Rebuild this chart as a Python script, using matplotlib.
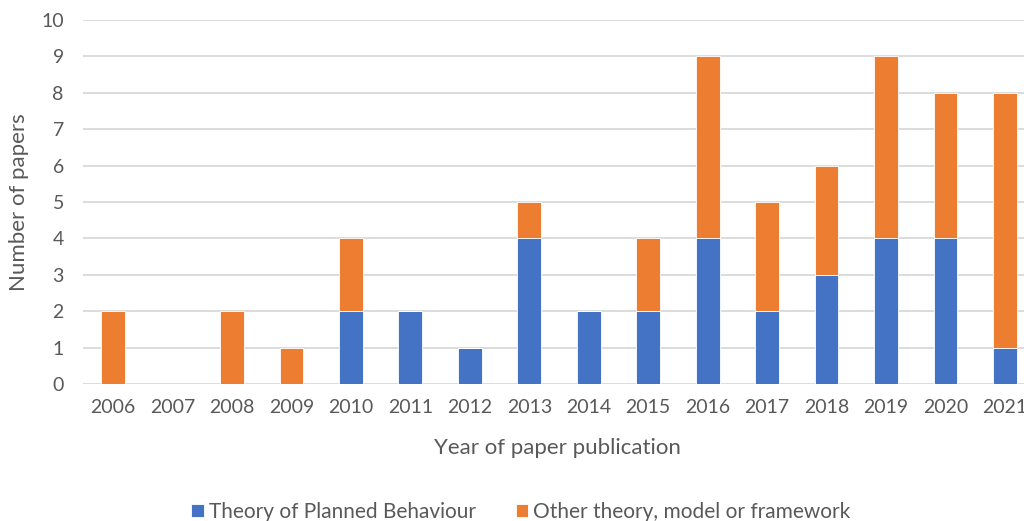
import numpy as np
import matplotlib.pyplot as plt

plt.rcParams['font.family'] = ['Lato', 'DejaVu Sans']

# Papers per year, split by the theory they use
years = ['2006', '2007', '2008', '2009', '2010', '2011', '2012', '2013',
         '2014', '2015', '2016', '2017', '2018', '2019', '2020', '2021']
tpb = [0, 0, 0, 0, 2, 2, 1, 4, 2, 2, 4, 2, 3, 4, 4, 1]
other = [2, 0, 2, 1, 2, 0, 0, 1, 0, 2, 5, 3, 3, 5, 4, 7]

blue = '#4472C4'
orange = '#ED7D31'
grey_text = '#595959'

fig = plt.figure(figsize=(10.24, 5.21), dpi=100)
W, H = 1024, 521
left, right = 83.3, 1034.7
ax = fig.add_axes([left / W, (H - 384) / H, (right - left) / W, (384 - 20) / H])

x = np.arange(len(years))
ax.bar(x, tpb, width=0.4, color=blue, edgecolor='white', linewidth=0.6,
       label='Theory of Planned Behaviour', zorder=3)
ax.bar(x, other, width=0.4, bottom=tpb, color=orange, edgecolor='white',
       linewidth=0.6, label='Other theory, model or framework', zorder=3)

ax.set_xlim(-0.5, len(years) - 0.5)
ax.set_ylim(0, 10)
ax.set_yticks(range(0, 11))
ax.set_xticks(x)
ax.set_xticklabels(years)
ax.yaxis.grid(True, color='#D9D9D9', linewidth=1.3, zorder=0)
ax.set_axisbelow(True)
for s in ax.spines.values():
    s.set_visible(False)
ax.tick_params(length=0, labelsize=14, colors=grey_text)
ax.tick_params(axis='y', pad=14)
ax.tick_params(axis='x', pad=11)

fig.text(557 / W, 1 - 448 / H, 'Year of paper publication', ha='center',
         va='center', fontsize=16, color=grey_text)
fig.text(19 / W, 1 - 202 / H, 'Number of papers', ha='center', va='center',
         rotation=90, fontsize=16, color=grey_text)

fig.legend(loc='center', bbox_to_anchor=(521 / W, 1 - 512 / H), ncol=2,
           frameon=False, fontsize=15, labelcolor=grey_text,
           handlelength=0.6, handleheight=0.6, handletextpad=0.25,
           columnspacing=1.9)

fig.savefig('out.png', dpi=100)
